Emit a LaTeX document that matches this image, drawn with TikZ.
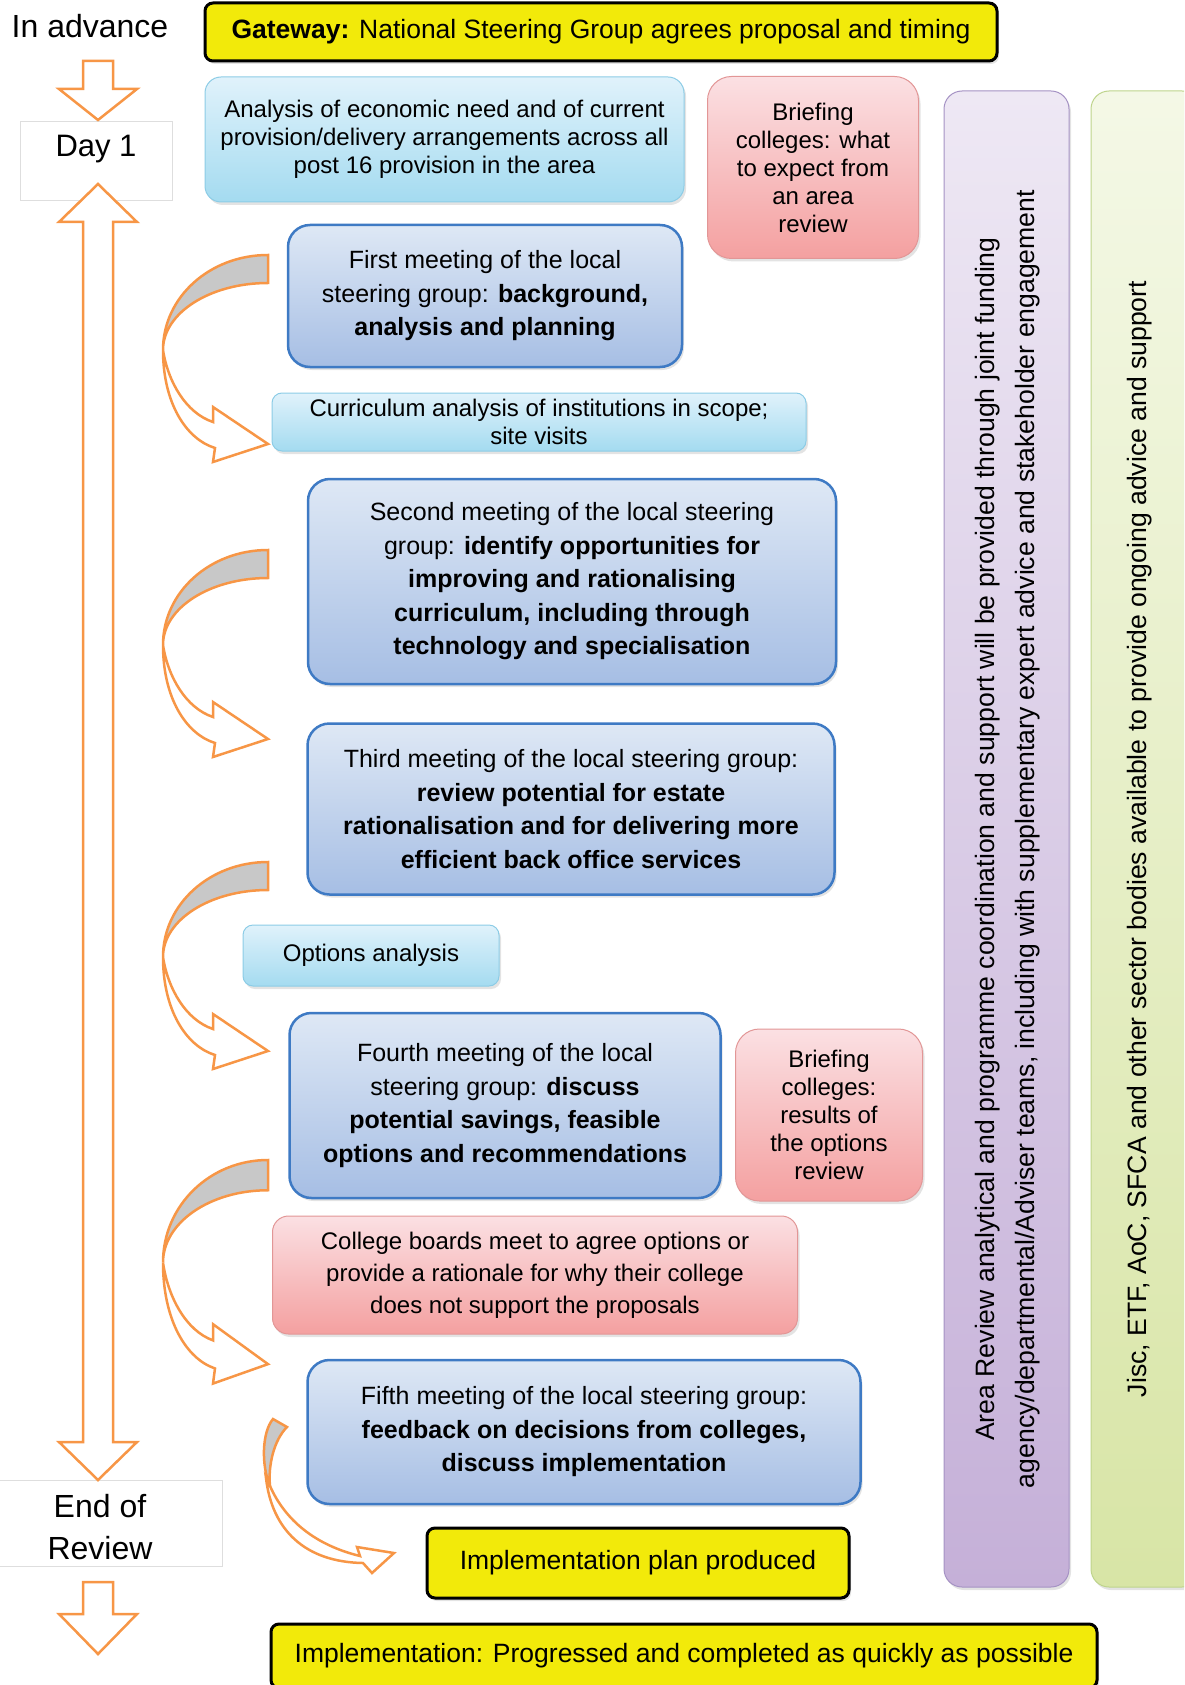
\documentclass[tikz,border=0pt]{standalone}
\usepackage{fontspec}
\setmainfont{Liberation Sans}
\usepackage{tikz}
\usetikzlibrary{shadows}
\definecolor{gateyellow}{RGB}{242,234,10}
\definecolor{arroworange}{RGB}{247,150,70}
\definecolor{arrowgrey}{RGB}{200,200,200}
\definecolor{meettop}{RGB}{222,232,245}
\definecolor{meetbot}{RGB}{166,190,228}
\definecolor{meetborder}{RGB}{62,122,196}
\definecolor{infotop}{RGB}{224,242,251}
\definecolor{infobot}{RGB}{164,219,240}
\definecolor{infoborder}{RGB}{140,204,230}
\definecolor{brieftop}{RGB}{251,224,227}
\definecolor{briefbot}{RGB}{244,160,160}
\definecolor{briefborder}{RGB}{226,150,150}
\definecolor{supporttop}{RGB}{238,232,244}
\definecolor{supportbot}{RGB}{197,176,216}
\definecolor{supportborder}{RGB}{165,146,196}
\definecolor{sectortop}{RGB}{244,248,230}
\definecolor{sectorbot}{RGB}{216,229,166}
\definecolor{sectorborder}{RGB}{190,212,140}
\definecolor{tagborder}{RGB}{222,222,222}

\begin{document}
\begin{tikzpicture}[
    x=1pt, y=-1pt,
    shadowed/.style={drop shadow={opacity=0.22, shadow xshift=2pt, shadow yshift=-3pt}},
    gate/.style={draw=black, line width=3pt, fill=gateyellow, rounded corners=8pt, inner sep=0pt, shadowed, font=\fontsize{26.5}{32}\selectfont},
    meeting/.style={draw=meetborder, line width=2.5pt, top color=meettop, bottom color=meetbot, rounded corners=22pt, inner sep=0pt, align=center, shadowed, font=\fontsize{25}{33.5}\selectfont},
    info/.style={draw=infoborder, line width=1pt, top color=infotop, bottom color=infobot, rounded corners=16pt, inner sep=0pt, align=center, shadowed, font=\fontsize{24}{28}\selectfont},
    briefing/.style={draw=briefborder, line width=1pt, top color=brieftop, bottom color=briefbot, rounded corners=24pt, inner sep=0pt, align=center, shadowed, font=\fontsize{24}{28}\selectfont},
    column/.style={line width=1pt, rounded corners=18pt, inner sep=0pt, shadowed},
    tagbox/.style={draw=tagborder, line width=0.8pt, fill=white, inner sep=0pt},
    tag/.style={font=\fontsize{32}{42}\selectfont, align=center, inner sep=0pt},
    blockarrow/.style={draw=arroworange, line width=2.5pt, fill=white, line join=miter},
    arrowline/.style={draw=arroworange, line width=2.5pt, line join=miter},
    curvarrow/.pic={
        \draw[arrowline, fill=arrowgrey] (0,0) .. controls (-58,0) and (-105,42) .. (-105,95)
            .. controls (-105,58) and (-58,28) .. (0,28) -- cycle;
        \draw[arrowline, fill=white] (-105,95) .. controls (-100,127) and (-82,158) .. (-55,167)
            -- (-55,152) -- (0,189) -- (-55,207) -- (-53,193)
            .. controls (-82,184) and (-105,148) .. (-105,95) -- cycle;
    }
]
    \useasboundingbox (0,0) rectangle (1184,1685);
    \clip (0,0) rectangle (1184,1685);

    % Support columns
    \node[column, draw=supportborder, top color=supporttop, bottom color=supportbot, minimum width=125pt, minimum height=1496pt] (support) at (1006.5,839) {};
    \node[rotate=90, align=center, font=\fontsize{26.6}{40}\selectfont] (supporttext) at (1008,839) {Area Review analytical and programme coordination and support will be provided through joint funding\\agency/departmental/Adviser teams, including with supplementary expert advice and stakeholder engagement};
    \node[column, draw=sectorborder, top color=sectortop, bottom color=sectorbot, minimum width=109pt, minimum height=1496pt] (sector) at (1145.5,839) {};
    \node[rotate=90, font=\fontsize{26.6}{30}\selectfont] (sectortext) at (1140,839) {Jisc, ETF, AoC, SFCA and other sector bodies available to provide ongoing advice and support};

    % Timeline labels
    \node[tag] (advance) at (90,26) {In advance};
    \node[tagbox, minimum width=152pt, minimum height=79pt] (day1box) at (96,160.5) {};
    \node[tag, font=\fontsize{31}{42}\selectfont] (day1) at (96,149) {Day 1};
    \node[tagbox, minimum width=224pt, minimum height=86pt] (endbox) at (110,1523) {};
    \node[tag] (endrev) at (100,1527) {End of\\Review};

    % Steps
    \node[gate, minimum width=792pt, minimum height=58pt] (gateway) at (601,32) {\textbf{Gateway:} National Steering Group agrees proposal and timing};
    \node[info, minimum width=479pt, minimum height=125pt] (analysis) at (444.5,139.5) {Analysis of economic need and of current\\provision/delivery arrangements across all\\post 16 provision in the area};
    \node[briefing, minimum width=211pt, minimum height=182pt] (brief1) at (813,167.5) {Briefing\\colleges: what\\to expect from\\an area\\review};
    \node[meeting, minimum width=394pt, minimum height=142pt] (meet1) at (485,296) {First meeting of the local\\steering group: \textbf{background,}\\\textbf{analysis and planning}};
    \node[info, rounded corners=10pt, minimum width=534pt, minimum height=58pt] (curric) at (539,422) {Curriculum analysis of institutions in scope;\\site visits};
    \node[meeting, minimum width=528pt, minimum height=205pt] (meet2) at (572,581.5) {Second meeting of the local steering\\group: \textbf{identify opportunities for}\\\textbf{improving and rationalising}\\\textbf{curriculum, including through}\\\textbf{technology and specialisation}};
    \node[meeting, minimum width=527pt, minimum height=171pt] (meet3) at (571,809) {Third meeting of the local steering group:\\\textbf{review potential for estate}\\\textbf{rationalisation and for delivering more}\\\textbf{efficient back office services}};
    \node[info, rounded corners=10pt, minimum width=256pt, minimum height=61pt] (options) at (371,955.5) {Options analysis};
    \node[meeting, minimum width=431pt, minimum height=185pt] (meet4) at (505,1105.5) {Fourth meeting of the local\\steering group: \textbf{discuss}\\\textbf{potential savings, feasible}\\\textbf{options and recommendations}};
    \node[briefing, minimum width=187pt, minimum height=172pt] (brief2) at (829,1115) {Briefing\\colleges:\\results of\\the options\\review};
    \node[briefing, rounded corners=16pt, font=\fontsize{24}{32}\selectfont, minimum width=525pt, minimum height=118pt] (boards) at (535,1275) {College boards meet to agree options or\\provide a rationale for why their college\\does not support the proposals};
    \node[meeting, minimum width=553pt, minimum height=144pt] (meet5) at (584,1432) {Fifth meeting of the local steering group:\\\textbf{feedback on decisions from colleges,}\\\textbf{discuss implementation}};
    \node[gate, minimum width=422pt, minimum height=70pt] (implplan) at (638,1563) {Implementation plan produced};
    \node[gate, minimum width=826pt, minimum height=64pt] (impl) at (684,1656) {Implementation: Progressed and completed as quickly as possible};

    % Timeline arrows
    \draw[blockarrow] (83,61) -- (113,61) -- (113,89) -- (137,89) -- (98,120) -- (59,89) -- (83,89) -- cycle;
    \draw[blockarrow] (98,184) -- (137,222) -- (113,222) -- (113,1442) -- (137,1442) -- (98,1480)
        -- (59,1442) -- (83,1442) -- (83,222) -- (59,222) -- cycle;
    \draw[blockarrow] (83,1582) -- (113,1582) -- (113,1614) -- (137,1614) -- (98,1654) -- (59,1614) -- (83,1614) -- cycle;

    % Curved arrows
    \pic at (268,255) {curvarrow};
    \pic at (268,550) {curvarrow};
    \pic at (268,862) {curvarrow};
    \pic[yscale=1.08] at (268,1160) {curvarrow};
    \draw[arrowline, fill=arrowgrey] (273,1419) .. controls (262,1432) and (261,1465) .. (270,1486)
        .. controls (268,1465) and (274,1440) .. (287,1427) -- cycle;
    \draw[arrowline, fill=white] (270,1486) .. controls (285,1520) and (315,1545) .. (360,1556)
        -- (357,1547) -- (394,1553) -- (372,1573) -- (363,1563)
        .. controls (305,1562) and (272,1530) .. (266,1478) -- cycle;
\end{tikzpicture}
\end{document}
